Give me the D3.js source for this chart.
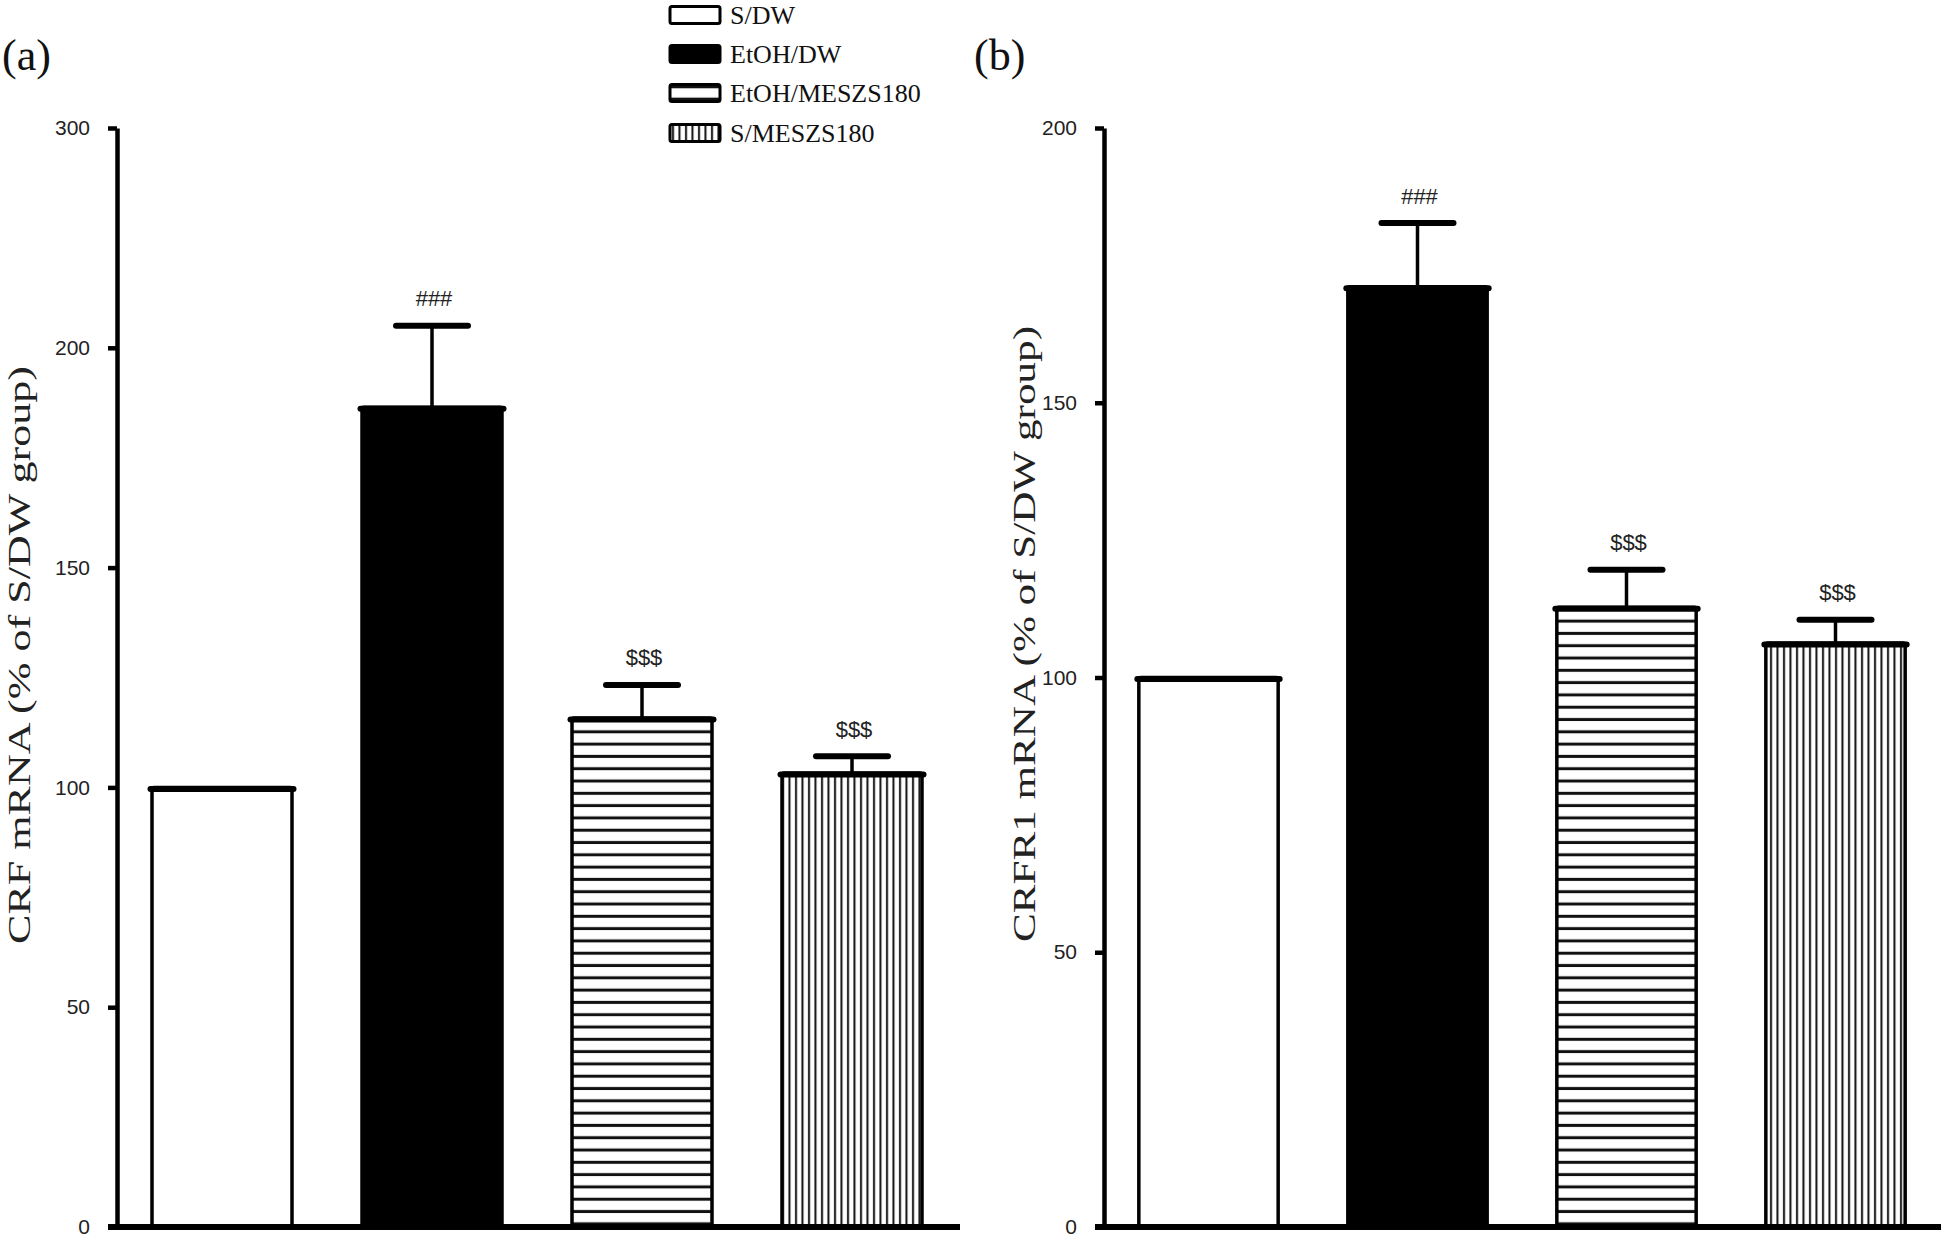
<!DOCTYPE html>
<html>
<head>
<meta charset="utf-8">
<script src="https://cdn.jsdelivr.net/npm/d3@7"></script>
<style>
  html, body { margin: 0; padding: 0; background: #fff; }
  svg { display: block; }
</style>
</head>
<body>
<svg id="chart" width="1946" height="1242"></svg>
<script>
// ---------- data ----------
const categories = ["S/DW", "EtOH/DW", "EtOH/MESZS180", "S/MESZS180"];
const fills = ["white", "black", "hstripe", "vstripe"];

const crfMeans = [100, 186.5, 115.8, 103.3];
const crfErrors = [0, 18.5, 7.5, 3.8];
const crfSig = ["", "###", "$$$", "$$$"];
const crfTickValues = [0, 50, 100, 150, 200, 250];
const crfTickLabels = ["0", "50", "100", "150", "200", "300"];

const crfr1Means = [100, 171.1, 112.8, 106.3];
const crfr1Errors = [0, 11.6, 6.8, 4.2];
const crfr1Sig = ["", "###", "$$$", "$$$"];
const crfr1TickValues = [0, 50, 100, 150, 200];
const crfr1TickLabels = ["0", "50", "100", "150", "200"];

// ---------- setup ----------
const svg = d3.select("#chart");
const defs = svg.append("defs");

const hp = defs.append("pattern").attr("id", "hstripe")
  .attr("patternUnits", "userSpaceOnUse").attr("width", 12).attr("height", 12.3);
hp.append("rect").attr("width", 12).attr("height", 12.3).attr("fill", "white");
hp.append("rect").attr("y", 4.6).attr("width", 12).attr("height", 3).attr("fill", "#111");

const vp = defs.append("pattern").attr("id", "vstripe")
  .attr("patternUnits", "userSpaceOnUse").attr("width", 6.5).attr("height", 10);
vp.append("rect").attr("width", 6.5).attr("height", 10).attr("fill", "white");
vp.append("rect").attr("x", 2).attr("width", 2).attr("height", 10).attr("fill", "#111");

function fillOf(i) {
  const f = fills[i];
  return (f === "hstripe" || f === "vstripe") ? `url(#${f})` : f;
}

const yTop = 128, yBottom = 1227;

function panel(opts) {
  const g = svg.append("g");
  const x = d3.scaleBand().domain(categories)
    .range([opts.x0, opts.x1]).paddingInner(1 / 3).paddingOuter(1 / 6);
  const y = d3.scaleLinear().domain([0, opts.max]).range([yBottom, yTop]);
  const idx = d => categories.indexOf(d);
  const cx = d => x(d) + x.bandwidth() / 2;
  const hi = d => y(opts.means[idx(d)] + opts.errors[idx(d)]);

  // bars
  const bars = g.selectAll("g.bar").data(categories).join("g").attr("class", "bar");
  bars.append("rect")
    .attr("x", d => x(d))
    .attr("y", d => y(opts.means[idx(d)]))
    .attr("width", x.bandwidth())
    .attr("height", d => y(0) - y(opts.means[idx(d)]))
    .attr("rx", 2)
    .attr("fill", d => fillOf(idx(d)))
    .attr("stroke", "black")
    .attr("stroke-width", 3.5);
  // thick top edge
  bars.append("line")
    .attr("x1", d => x(d) - 1.5)
    .attr("x2", d => x(d) + x.bandwidth() + 1.5)
    .attr("y1", d => y(opts.means[idx(d)]) + 1.5)
    .attr("y2", d => y(opts.means[idx(d)]) + 1.5)
    .attr("stroke", "black").attr("stroke-width", 6).attr("stroke-linecap", "round");

  // error bars
  const eb = bars.filter(d => opts.errors[idx(d)] > 0);
  eb.append("line")
    .attr("x1", cx).attr("x2", cx)
    .attr("y1", d => y(opts.means[idx(d)]))
    .attr("y2", hi)
    .attr("stroke", "black").attr("stroke-width", 3.5);
  eb.append("line")
    .attr("x1", d => cx(d) - 36)
    .attr("x2", d => cx(d) + 36)
    .attr("y1", hi).attr("y2", hi)
    .attr("stroke", "black").attr("stroke-width", 6).attr("stroke-linecap", "round");

  // significance
  bars.filter(d => opts.sig[idx(d)] !== "")
    .append("text")
    .attr("x", d => cx(d) + 2)
    .attr("y", d => hi(d) - 27)
    .attr("text-anchor", "middle")
    .attr("dominant-baseline", "central")
    .attr("font-family", "Liberation Sans, Arial, sans-serif")
    .attr("font-size", 22)
    .attr("fill", "#222")
    .text(d => opts.sig[idx(d)]);

  // y axis
  const yAxis = d3.axisLeft(y)
    .tickValues(opts.tickValues)
    .tickFormat((d, i) => opts.tickLabels[i])
    .tickSize(9).tickSizeOuter(0).tickPadding(18);
  const ya = g.append("g").attr("transform", `translate(${opts.x0},0)`).call(yAxis);
  ya.select(".domain").attr("stroke", "black").attr("stroke-width", 4.5);
  ya.selectAll(".tick line").attr("stroke", "black").attr("stroke-width", 4.5);
  ya.selectAll(".tick text")
    .attr("font-family", "Liberation Sans, Arial, sans-serif")
    .attr("font-size", 21).attr("fill", "#222");

  // x axis (baseline)
  const xa = d3.axisBottom(x).tickValues([]).tickSizeOuter(0);
  const xg = g.append("g").attr("transform", `translate(0,${yBottom})`).call(xa);
  xg.select(".domain")
    .attr("d", `M${opts.x0 - 9},0H${opts.xEnd}`)
    .attr("stroke", "black").attr("stroke-width", 6);

  // y title
  g.append("text")
    .attr("transform", `translate(${opts.titleX},${opts.titleY}) rotate(-90)`)
    .attr("text-anchor", "middle")
    .attr("dominant-baseline", "central")
    .attr("font-family", "Liberation Serif, Times New Roman, serif")
    .attr("font-size", 31)
    .attr("textLength", opts.titleLen)
    .attr("lengthAdjust", "spacingAndGlyphs")
    .attr("fill", "#222")
    .text(opts.title);

  // panel letter
  g.append("text")
    .attr("x", opts.letterX).attr("y", 70)
    .attr("font-family", "Liberation Serif, Times New Roman, serif")
    .attr("font-size", 44)
    .attr("fill", "#111")
    .text(opts.letter);
}

panel({
  x0: 117, x1: 957, xEnd: 960, max: 250,
  means: crfMeans, errors: crfErrors, sig: crfSig,
  tickValues: crfTickValues, tickLabels: crfTickLabels,
  title: "CRF mRNA (% of S/DW group)", titleX: 19, titleY: 655, titleLen: 578,
  letter: "(a)", letterX: 2
});

panel({
  x0: 1104, x1: 1940, xEnd: 1941, max: 200,
  means: crfr1Means, errors: crfr1Errors, sig: crfr1Sig,
  tickValues: crfr1TickValues, tickLabels: crfr1TickLabels,
  title: "CRFR1 mRNA (% of S/DW group)", titleX: 1024, titleY: 634, titleLen: 616,
  letter: "(b)", letterX: 974
});

// ---------- legend ----------
const legend = svg.append("g");
const rowsY = [15, 54, 93, 133];
const lg = legend.selectAll("g").data(categories).join("g")
  .attr("transform", (d, i) => `translate(670,${rowsY[i]})`);
lg.append("rect")
  .attr("x", 0).attr("y", -8.5).attr("width", 50).attr("height", 17).attr("rx", 2)
  .attr("fill", (d, i) => fillOf(i))
  .attr("stroke", "black").attr("stroke-width", 3);
lg.append("text")
  .attr("x", 60).attr("y", 0)
  .attr("dominant-baseline", "central")
  .attr("font-family", "Liberation Serif, Times New Roman, serif")
  .attr("font-size", 26)
  .attr("fill", "#111")
  .text(d => d);
</script>
</body>
</html>
